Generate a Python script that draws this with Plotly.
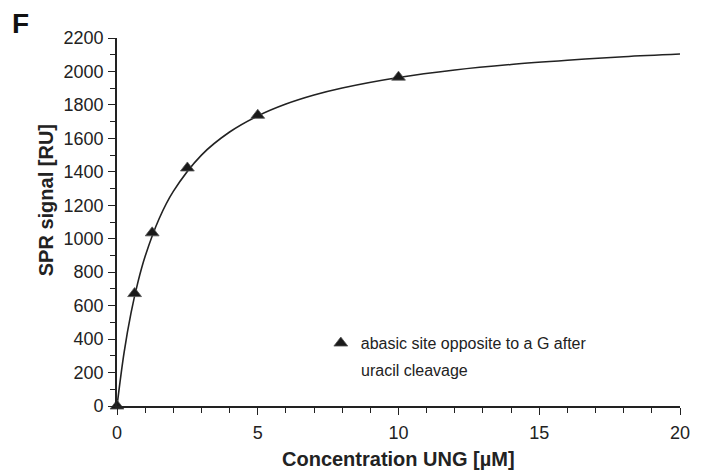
import plotly.graph_objects as go

# measured data points
conc = [0, 0.625, 1.25, 2.5, 5, 10]
signal = [0, 672, 1035, 1423, 1738, 1966]

# fitted curve
curve_x = [0, 0.25, 0.5, 0.75, 1, 1.5, 2, 3, 4, 5, 6, 7, 8, 10, 12, 14, 16, 18, 20]
curve_y = [0, 318, 558, 745, 895, 1121, 1283, 1500, 1638, 1734, 1805, 1859, 1901, 1964, 2009, 2042, 2067, 2088, 2104]

legend_line1 = "abasic site opposite to a G after"
legend_line2 = "uracil cleavage"
x_title = "Concentration UNG [µM]"
y_title = "SPR signal [RU]"
panel_label = "F"

font_family = "Liberation Sans, Arial, sans-serif"
dark = "#222222"

# plot area in pixels
L, R, T, B = 117, 12, 38, 64
W, H = 702, 470
pw, ph = W - L - R, H - T - B


def px(xp):
    return (xp - L) / pw


def py(yp):
    return (H - B - yp) / ph


fig = go.Figure()
fig.add_trace(go.Scatter(
    x=curve_x, y=curve_y, mode="lines", line=dict(color=dark, width=1.6, shape="spline"),
    showlegend=False, hoverinfo="skip", cliponaxis=False))
fig.add_trace(go.Scatter(
    x=conc, y=signal, mode="markers", name=legend_line1,
    marker=dict(symbol="triangle-up", size=12, color="#1a1a1a",
                line=dict(color="#555555", width=0.8)),
    cliponaxis=False))

axis_common = dict(
    showline=True, linecolor=dark, linewidth=1.6, ticks="outside", tickcolor=dark,
    tickwidth=1.3, ticklen=7, showgrid=False, zeroline=False,
    tickfont=dict(family=font_family, size=18, color=dark),
)

fig.update_xaxes(range=[0, 20], tick0=0, dtick=5, ticklabelstandoff=3,
                 minor=dict(dtick=1, ticks="outside", ticklen=5, tickcolor=dark, tickwidth=1.3),
                 **axis_common)
fig.update_yaxes(range=[0, 2200], tick0=0, dtick=200, ticklabelstandoff=1,
                 minor=dict(dtick=100, ticks="outside", ticklen=5, tickcolor=dark, tickwidth=1.3),
                 **axis_common)

fig.update_layout(
    width=W, height=H,
    margin=dict(l=L, r=R, t=T, b=B),
    paper_bgcolor="white", plot_bgcolor="white",
    font=dict(family=font_family, color=dark),
    showlegend=True,
    legend=dict(x=0.362, y=0.217, xanchor="left", yanchor="top", valign="middle",
                bgcolor="rgba(0,0,0,0)", font=dict(family=font_family, size=16, color=dark),
                itemwidth=30),
    annotations=[
        dict(text="<b>" + panel_label + "</b>", x=px(8), y=py(6), xref="paper", yref="paper",
             xanchor="left", yanchor="top", showarrow=False,
             font=dict(family=font_family, size=28, color="#111")),
        dict(text="<b>" + x_title + "</b>", x=px(404), y=py(459), xref="paper", yref="paper",
             xanchor="center", yanchor="middle", showarrow=False,
             font=dict(family=font_family, size=20, color=dark)),
        dict(text="<b>" + y_title + "</b>", x=px(45), y=py(200), xref="paper", yref="paper",
             xanchor="center", yanchor="middle", showarrow=False, textangle=-90,
             font=dict(family=font_family, size=20, color=dark)),
        dict(text=legend_line2, x=px(363), y=py(370), xref="paper", yref="paper",
             xanchor="left", yanchor="middle", showarrow=False,
             font=dict(family=font_family, size=16, color=dark)),
    ],
)

fig.write_html("out.html")
